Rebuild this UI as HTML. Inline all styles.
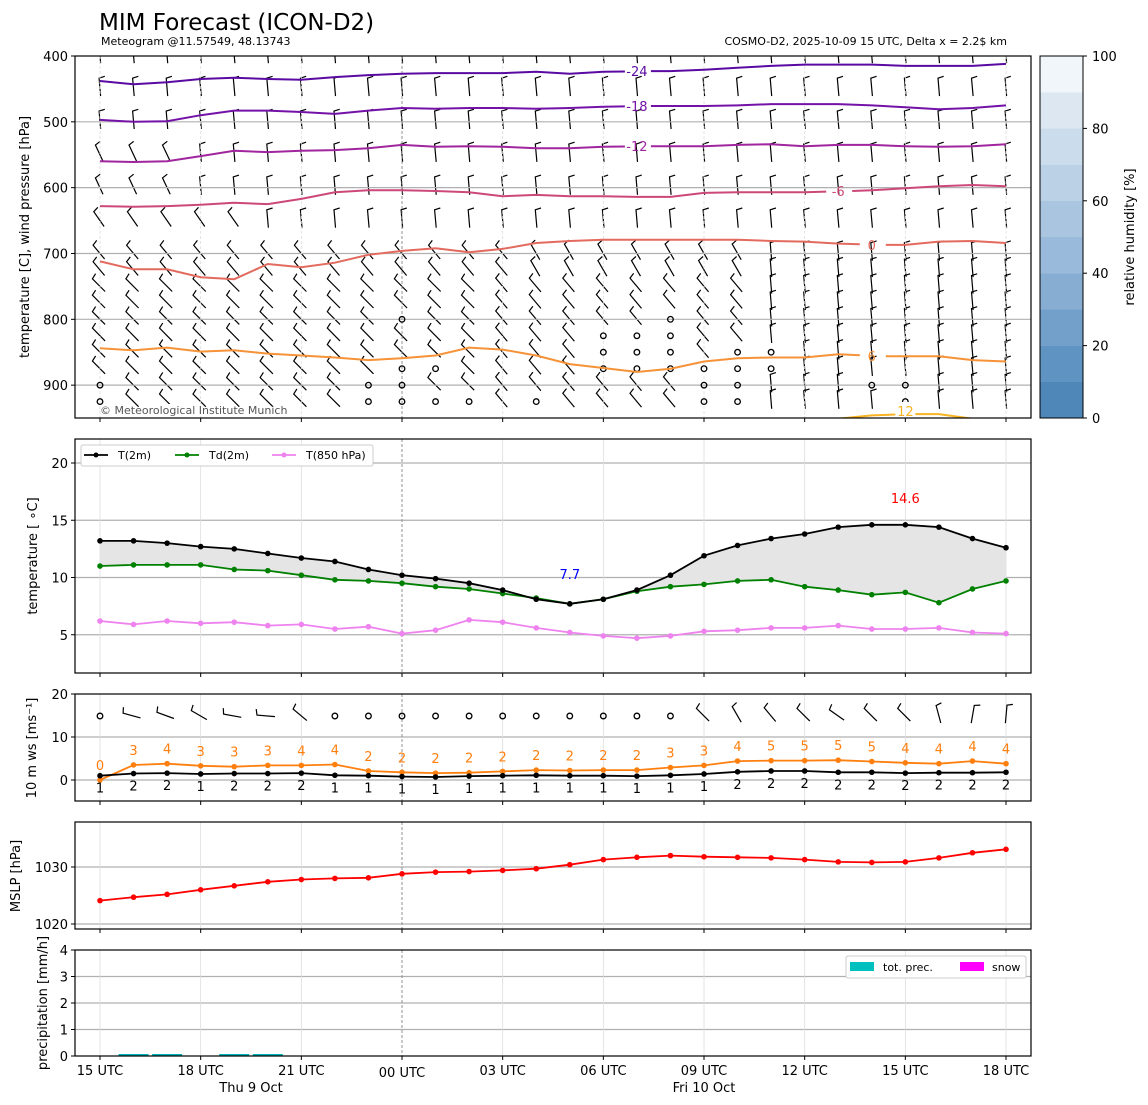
<!DOCTYPE html>
<html><head><meta charset="utf-8"><style>
body{margin:0;background:#fff;}
svg{display:block;font-family:"DejaVu Sans","Liberation Sans",sans-serif;}
</style></head><body>
<svg id="c" width="1148" height="1105" viewBox="0 0 1148 1105" xmlns="http://www.w3.org/2000/svg">
<rect width="1148" height="1105" fill="#fff"/>
<text x="99" y="30" font-size="23">MIM Forecast (ICON-D2)</text>
<text x="101" y="45" font-size="11">Meteogram @11.57549, 48.13743</text>
<text x="1007" y="45" font-size="11" text-anchor="end">COSMO-D2, 2025-10-09 15 UTC, Delta x = 2.2$ km</text>
<g id="g"></g>
</svg>
<script>
// ---- data ----
const hours = [0,1,2,3,4,5,6,7,8,9,10,11,12,13,14,15,16,17,18,19,20,21,22,23,24,25,26,27];
const xTickLabels = ["15 UTC","18 UTC","21 UTC","00 UTC","03 UTC","06 UTC","09 UTC","12 UTC","15 UTC","18 UTC"];
const isoM24 = [438,443,440,435,433,435,436,432,429,427,426,426,426,424,427,424,423,423,421,418,415,413,413,413,415,415,415,412];
const isoM18 = [497,500,499,490,483,483,485,488,483,479,480,479,479,480,479,477,476,476,476,475,473,473,473,475,478,481,479,475];
const isoM12 = [560,561,560,552,544,546,544,543,540,535,538,537,538,540,540,538,537,537,537,535,534,537,535,535,537,538,537,534];
const isoM6 = [628,629,628,626,623,625,617,607,604,604,605,607,613,611,613,613,614,614,608,607,607,607,605,604,601,598,596,598];
const iso0 = [712,724,724,736,739,716,721,714,702,696,692,698,693,684,681,679,679,679,679,679,681,682,685,687,687,682,681,684];
const iso6 = [844,847,843,849,847,852,855,858,862,859,855,843,846,855,868,874,880,875,864,859,858,858,853,856,856,856,862,864];
const iso12 = [951,951,951,951,999,999,999,999,999,999,999,999,999,999,999,999,999,999,999,999,999,999,951,946,944,944,951,999];
const t2m = [13.2,13.2,13.0,12.7,12.5,12.1,11.7,11.4,10.7,10.2,9.9,9.5,8.9,8.1,7.7,8.1,8.9,10.2,11.9,12.8,13.4,13.8,14.4,14.6,14.6,14.4,13.4,12.6];
const td2m = [11.0,11.1,11.1,11.1,10.7,10.6,10.2,9.8,9.7,9.5,9.2,9.0,8.6,8.2,7.7,8.1,8.8,9.2,9.4,9.7,9.8,9.2,8.9,8.5,8.7,7.8,9.0,9.7];
const t850 = [6.2,5.9,6.2,6.0,6.1,5.8,5.9,5.5,5.7,5.1,5.4,6.3,6.1,5.6,5.2,4.9,4.7,4.9,5.3,5.4,5.6,5.6,5.8,5.5,5.5,5.6,5.2,5.1];
const gust = [0,3.5,3.8,3.3,3.1,3.4,3.4,3.6,2.1,1.8,1.6,1.7,2.0,2.3,2.2,2.3,2.3,2.9,3.4,4.4,4.5,4.5,4.6,4.3,4.0,3.8,4.4,3.8];
const gustLabels = [0,3,4,3,3,3,4,4,2,2,2,2,2,2,2,2,2,3,3,4,5,5,5,5,4,4,4,4];
const ws = [1.0,1.5,1.6,1.4,1.5,1.5,1.6,1.1,1.0,0.8,0.7,0.9,1.0,1.1,1.0,1.0,0.9,1.1,1.4,1.9,2.1,2.1,1.8,1.8,1.6,1.7,1.7,1.8];
const wsLabels = [1,2,2,1,2,2,2,1,1,1,1,1,1,1,1,1,1,1,1,2,2,2,2,2,2,2,2,2];
const sfcDir = [0,165,160,150,170,175,140,0,0,0,0,0,0,0,0,0,0,0,135,120,130,135,145,135,135,105,80,85];
const mslp = [1024.1,1024.7,1025.2,1026.0,1026.7,1027.4,1027.8,1028.0,1028.1,1028.8,1029.1,1029.2,1029.4,1029.7,1030.4,1031.3,1031.7,1032.0,1031.8,1031.7,1031.6,1031.3,1030.9,1030.8,1030.9,1031.6,1032.5,1033.1];
const precip = [0,0.03,0.03,0,0.03,0.03,0,0,0,0,0,0,0,0,0,0,0,0,0,0,0,0,0,0,0,0,0,0];
const barbLevels = [400,450,500,550,600,650,700,725,750,775,800,825,850,875,900,925];
// ---- scales ----
const L=75,R=1031;
const X=h=>100+h*33.556;
const P1=p=>56+(p-400)*0.6583;
const P2=v=>692-v*11.45;
const P3=v=>780-v*4.3;
const P4=v=>867-(v-1030)*5.7;
const P5=v=>1056-v*26.5;
const NS="http://www.w3.org/2000/svg";
const G=document.getElementById('g');
function el(t,a,par){const e=document.createElementNS(NS,t);for(const k in a)e.setAttribute(k,a[k]);(par||G).appendChild(e);return e;}
function txt(x,y,s,a){const e=el('text',Object.assign({x:x,y:y,'font-size':13},a||{}));e.textContent=s;return e;}
function line(vals,f,color,name,dots,w){
  const pts=vals.map((v,i)=>X(hours[i]).toFixed(1)+','+f(v).toFixed(1)).join(' ');
  const p=el('polyline',{points:pts,fill:'none',stroke:color,'stroke-width':w||2});
  
  
  if(dots)vals.forEach((v,i)=>{const c=el('circle',{cx:X(hours[i]),cy:f(v),r:2.8,fill:color});
    
    });
}
function barb(x,y,ang,len,name,par){
  const a=ang*Math.PI/180;const dx=Math.cos(a),dy=-Math.sin(a);
  const bx=x-dx*len*0.4,by=y-dy*len*0.4,tx=x+dx*len*0.6,ty=y+dy*len*0.6;
  const fa=a-1.35;const fx=tx+Math.cos(fa)*6,fy=ty-Math.sin(fa)*6;
  const p=el('path',{d:`M${bx.toFixed(1)},${by.toFixed(1)}L${tx.toFixed(1)},${ty.toFixed(1)}L${fx.toFixed(1)},${fy.toFixed(1)}`,fill:'none',stroke:'#000','stroke-width':1.2},par);
  
  
}
function calm(x,y,name){const c=el('circle',{cx:x,cy:y,r:2.8,fill:'none',stroke:'#000','stroke-width':1.3});
  
  }
function frame(y0,y1,name){const r=el('rect',{x:L,y:y0,width:R-L,height:y1-y0,fill:'none',stroke:'#000','stroke-width':1.2});
  
  }
function vgrid(y0,y1,dotted){for(let i=0;i<10;i++){const x=X(i*3);
  el('line',{x1:x,x2:x,y1:y0,y2:y1,stroke:i==3?'#888':'#ddd','stroke-width':i==3?0.9:0.8,'stroke-dasharray':(i==3||dotted)?'3,2':''});
  el('line',{x1:x,x2:x,y1:y1,y2:y1+4,stroke:'#000'});}}
function hgrid(vals,f,y0,y1){vals.forEach(v=>{const y=f(v);if(y>y0+1&&y<y1-1)el('line',{x1:L,x2:R,y1:y,y2:y,stroke:'#b0b0b0','stroke-width':1.2});});}
function yticks(vals,f,lab){vals.forEach((v,i)=>{const y=f(v);el('line',{x1:L-4,x2:L,y1:y,y2:y,stroke:'#000'});
  const t=txt(L-7,y+5,lab?lab[i]:String(v),{'text-anchor':'end'});
  
  });}
function ylabel(x,y,s,name){const t=txt(x,y,s,{transform:`rotate(-90 ${x} ${y})`,'text-anchor':'middle'});
  
  }

// ---- panel 1 ----
el('clipPath',{id:'cp1'});el('rect',{x:L,y:56,width:R-L,height:362},document.getElementById('cp1'));
const bg=el('g',{'clip-path':'url(#cp1)'});
hgrid([500,600,700,800,900],P1,56,418);
vgrid(56,418,true);
const isoList=[[isoM24,'#5a0aa2',-24,16],[isoM18,'#7412a8',-18,16],[isoM12,'#a0259e',-12,16],[isoM6,'#cc4878',-6,22],[iso0,'#e36a5e',0,23],[iso6,'#f69238',6,23]];
const calmMap={800:[9,17],825:[15,16,17],850:[15,16,17,19,20],875:[9,10,15,16,17,18,19,20],900:[0,8,9,18,19,23,24],925:[0,8,9,10,11,13,18,19,24]};
barbLevels.forEach((p,r)=>{hours.forEach(h=>{
  const y=P1(p);const x=X(h);
  if(calmMap[p]&&calmMap[p].includes(h)){calm(x,y,'calm-marker');return;}
  let ang;
  if(p<=600)ang=(h<3&&p>=550)?115:95;
  else if(p==650)ang=h<5?125:95;
  else if(p<=725)ang=h<13?130:(h<20?120:95);
  else ang=h<12?135:(h<20?130:95);
  barb(x,y,ang,18,'wind-barb',bg);
});});
isoList.forEach(([arr,c,lab,li])=>{
  const a=arr.slice(0,li),b=arr.slice(li);
  const pa=a.map((v,i)=>X(i).toFixed(1)+','+P1(v).toFixed(1));pa.push((X(li)-12).toFixed(1)+','+P1((arr[li-1]+arr[li])/2).toFixed(1));
  const pb=[(X(li)+14).toFixed(1)+','+P1(arr[li]).toFixed(1)].concat(b.slice(1).map((v,i)=>X(li+1+i).toFixed(1)+','+P1(v).toFixed(1)));
  [pa,pb].forEach(pts=>{const pl=el('polyline',{points:pts.join(' '),fill:'none',stroke:c,'stroke-width':2});
    
    });
  const t=txt(X(li),P1(arr[li])+5,String(lab),{fill:c,'text-anchor':'middle'});
  
  
});
const c12=el('polyline',{points:hours.map(h=>X(h).toFixed(1)+','+P1(iso12[h]).toFixed(1)).join(' '),fill:'none',stroke:'#f8b422','stroke-width':2,'clip-path':'url(#cp1)'});


el('rect',{x:X(24)-10,y:402,width:20,height:16,fill:'#fff'});
txt(X(24),416,'12',{fill:'#f8b422','text-anchor':'middle'});
el('rect',{x:158,y:404,width:24,height:14,fill:'#fff'});
const cw=txt(100,414,'© Meteorological Institute Munich',{'font-size':11,fill:'#555'});


frame(56,418,'upper-air-panel');
yticks([400,500,600,700,800,900],P1);
ylabel(29,237,'temperature [C], wind pressure [hPa]','y-axis-title-upper-air');
// colorbar
const cb=['#5087b9','#5f93c2','#72a0ca','#87aed2','#99badb','#aac5df','#bad1e6','#cbdcec','#dde7f1','#f1f6fa'];
cb.forEach((c,i)=>{const r=el('rect',{x:1040,y:418-(i+1)*36.2,width:43,height:36.4,fill:c});
  
  });
el('rect',{x:1040,y:56,width:43,height:362,fill:'none',stroke:'#000','stroke-width':1});
[0,20,40,60,80,100].forEach(v=>{const y=418-v*3.62;el('line',{x1:1083,x2:1087,y1:y,y2:y,stroke:'#000'});txt(1092,y+5,String(v));});
ylabel(1134,237,'relative humidity [%]','colorbar-title');

// ---- panel 2 ----
hgrid([5,10,15,20],P2,439,673);
vgrid(439,673,false);
const fillPts=hours.map(h=>X(h)+','+P2(t2m[h])).concat(hours.slice().reverse().map(h=>X(h)+','+P2(td2m[h])));
const fl=el('polygon',{points:fillPts.join(' '),fill:'#e5e5e5',stroke:'none'});


line(t850,P2,'#ee82ee','t850-line',true,1.8);
line(td2m,P2,'#008000','td2m-line',true,1.8);
line(t2m,P2,'#000','t2m-line',true,1.8);
const mxv=Math.max(...t2m),mnv=Math.min(...t2m);
const mx=t2m.lastIndexOf(mxv),mn=t2m.indexOf(mnv);
txt(X(mx),P2(mxv)-22,String(mxv),{fill:'red','text-anchor':'middle'});
txt(X(mn),P2(mnv)-25,String(mnv),{fill:'blue','text-anchor':'middle'});
frame(439,673,'temperature-panel');
yticks([5,10,15,20],P2);
ylabel(37,556,'temperature [ ∘C]','y-axis-title-temperature');
const lg=el('rect',{x:81,y:445,width:292,height:21,fill:'#fff',stroke:'#ccc',rx:2});


[['#000','T(2m)',84],['#008000','Td(2m)',175],['#ee82ee','T(850 hPa)',272]].forEach(([c,s,x])=>{
  el('line',{x1:x,x2:x+24,y1:455,y2:455,stroke:c,'stroke-width':1.8});el('circle',{cx:x+12,cy:455,r:2.5,fill:c});
  const t=txt(x+34,459,s,{'font-size':11});
  
  });

// ---- panel 3 ----
hgrid([0,10,20],P3,694,801);
vgrid(694,801,false);
hours.forEach(h=>{const x=X(h),y=716;if(sfcDir[h]===0)calm(x,y,'surface-calm');else barb(x,y,sfcDir[h],18,'surface-wind-barb');});
line(gust,P3,'#ff7f0e','gust-line',true,1.8);
line(ws,P3,'#000','wind-speed-line',true,1.8);
hours.forEach(h=>{txt(X(h),P3(gust[h])-10,String(gustLabels[h]),{fill:'#ff7f0e','text-anchor':'middle'});
  txt(X(h),P3(ws[h])+17,String(wsLabels[h]),{'text-anchor':'middle'});});
frame(694,801,'wind-panel');
yticks([0,10,20],P3);
ylabel(36,748,'10 m ws [ms⁻¹]','y-axis-title-wind');

// ---- panel 4 ----
hgrid([1020,1030],P4,822,929);
vgrid(822,929,false);
line(mslp,P4,'#ff0000','mslp-line',true,1.8);
frame(822,929,'pressure-panel');
yticks([1020,1030],P4);
ylabel(20,876,'MSLP [hPa]','y-axis-title-mslp');

// ---- panel 5 ----
hgrid([1,2,3,4],P5,950,1056);
vgrid(950,1056,false);
hours.forEach(h=>{if(precip[h]>0){const hh=Math.max(2,1056-P5(precip[h]));const r=el('rect',{x:X(h)-15,y:1056-hh,width:30,height:hh,fill:'#00b0b0'});
  
  }});
frame(950,1056,'precipitation-panel');
yticks([0,1,2,3,4],P5);
ylabel(47,1003,'precipitation [mm/h]','y-axis-title-precip');
const lg2=el('rect',{x:846,y:956,width:180,height:22,fill:'#fff',stroke:'#ccc',rx:2});


el('rect',{x:850,y:962,width:24,height:9,fill:'#00bfbf'});txt(883,971,'tot. prec.',{'font-size':11});
el('rect',{x:960,y:962,width:24,height:9,fill:'#ff00ff'});txt(992,971,'snow',{'font-size':11});
xTickLabels.forEach((s,i)=>{const t=txt(X(i*3),i==3?1077:1075,s,{'text-anchor':'middle'});
  
  });
txt(X(4.5),1092,'Thu 9 Oct',{'text-anchor':'middle'});
txt(X(18),1092,'Fri 10 Oct',{'text-anchor':'middle'});
</script>
</body></html>
